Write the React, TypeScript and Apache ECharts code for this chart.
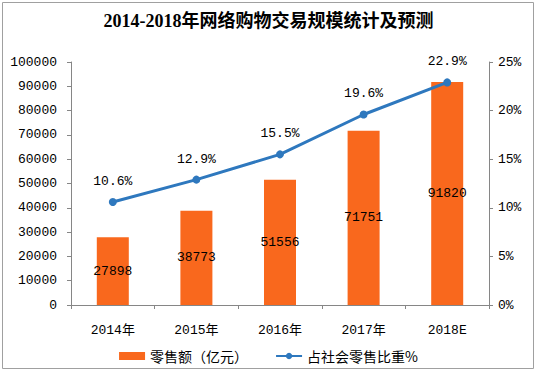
import React, { useEffect, useRef } from "react";
import * as echarts from "echarts";

const categories = ["2014年", "2015年", "2016年", "2017年", "2018E"];
const salesValues = [27898, 38773, 51556, 71751, 91820];
const shareValues = [10.6, 12.9, 15.5, 19.6, 22.9];
const titleText = "2014-2018年网络购物交易规模统计及预测";
const barName = "零售额（亿元）";
const lineName = "占社会零售比重%";

const NUM_FONT = "'Liberation Mono', 'Noto Sans CJK SC', monospace";
const CJK_FONT = "'Noto Sans CJK SC', sans-serif";
const ORANGE = "#F9681D";
const BLUE = "#2E78BE";
const AXIS = "#868686";

export default function App() {
  const ref = useRef<HTMLDivElement>(null);
  useEffect(() => {
    if (!ref.current) return;
    const chart = echarts.init(ref.current, null, { renderer: "svg" });
    chart.setOption({
      animation: false,
      backgroundColor: "#ffffff",
      title: {
        text: titleText,
        left: "center",
        top: 12,
        padding: 0,
        textStyle: {
          fontFamily: "'Liberation Serif', 'Noto Sans CJK SC', serif",
          fontSize: 18,
          fontWeight: "bold",
          color: "#000",
        },
      },
      graphic: [
        {
          type: "rect",
          shape: { x: 2.5, y: 2.5, width: 531, height: 366 },
          style: { fill: "none", stroke: "#A0A0A0", lineWidth: 1 },
          silent: true,
        },
      ],
      legend: {
        left: "center",
        top: 344,
        itemWidth: 26,
        itemHeight: 8,
        itemGap: 27,
        textStyle: { fontFamily: CJK_FONT, fontSize: 14, color: "#000" },
        data: [
          { name: barName, icon: "rect" },
          { name: lineName },
        ],
      },
      grid: { left: 71, right: 48, top: 62, bottom: 67 },
      xAxis: {
        type: "category",
        data: categories,
        boundaryGap: true,
        axisLine: { show: true, lineStyle: { color: AXIS } },
        axisTick: { show: true, length: 4, lineStyle: { color: AXIS } },
        axisLabel: { margin: 19, fontFamily: NUM_FONT, fontSize: 13, color: "#000" },
      },
      yAxis: [
        {
          type: "value",
          min: 0,
          max: 100000,
          interval: 10000,
          axisLine: { show: true, lineStyle: { color: AXIS } },
          axisTick: { show: true, length: 4, lineStyle: { color: AXIS } },
          splitLine: { show: false },
          axisLabel: {
            margin: 14,
            fontFamily: NUM_FONT,
            fontSize: 13,
            color: "#000",
            formatter: (v: number) => String(v),
          },
        },
        {
          type: "value",
          min: 0,
          max: 25,
          interval: 5,
          position: "right",
          axisLine: { show: true, lineStyle: { color: AXIS } },
          axisTick: { show: true, length: 4, lineStyle: { color: AXIS } },
          splitLine: { show: false },
          axisLabel: {
            margin: 9,
            fontFamily: NUM_FONT,
            fontSize: 13,
            color: "#000",
            formatter: "{value}%",
          },
        },
      ],
      series: [
        {
          name: barName,
          type: "bar",
          data: salesValues,
          barWidth: 32,
          itemStyle: { color: ORANGE },
          label: {
            show: true,
            position: "inside",
            fontFamily: NUM_FONT,
            fontSize: 13,
            color: "#000",
          },
        },
        {
          name: lineName,
          type: "line",
          yAxisIndex: 1,
          data: shareValues,
          symbol: "circle",
          symbolSize: 8,
          lineStyle: { color: BLUE, width: 3 },
          itemStyle: { color: BLUE },
          label: {
            show: true,
            position: "top",
            distance: 10,
            fontFamily: NUM_FONT,
            fontSize: 13,
            color: "#000",
            formatter: "{c}%",
          },
        },
      ],
    });
    return () => chart.dispose();
  }, []);
  return (
    <div
      ref={ref}
      style={{ position: "fixed", left: 0, top: 0, width: 537, height: 372, background: "#fff" }}
    />
  );
}
